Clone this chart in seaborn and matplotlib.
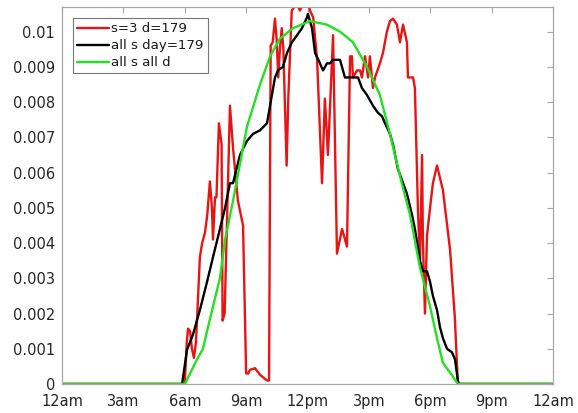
import matplotlib
matplotlib.use("Agg")
import matplotlib.pyplot as plt
import seaborn as sns
import pandas as pd

# ---- data (hours of day, fraction) ----
red_h = [0, 6.0, 6.1, 6.16, 6.26, 6.35, 6.45, 6.55, 6.74, 6.85, 6.99, 7.1, 7.23, 7.33, 7.38,
         7.48, 7.55, 7.67, 7.8, 7.85, 7.95, 8.21, 8.36, 8.6, 8.85, 9.0, 9.1, 9.19, 9.43, 9.68,
         10.02, 10.12, 10.2, 10.3, 10.41, 10.49, 10.57, 10.65, 10.74, 10.82, 10.98, 11.06,
         11.23, 11.31, 11.47, 11.63, 11.79, 12.04, 12.12, 12.28, 12.47, 12.71, 12.85, 13.0,
         13.25, 13.44, 13.69, 13.93, 14.08, 14.17,
         14.22, 14.42, 14.57, 14.66, 14.81, 14.96, 15.05, 15.2, 15.3, 15.54, 15.69, 15.88,
         16.03, 16.18, 16.37, 16.52, 16.67, 16.86, 16.91, 17.16, 17.25, 17.4, 17.5, 17.6,
         17.64, 17.74, 17.84, 17.99, 18.13, 18.33, 18.62, 18.97, 19.2, 19.35, 24]
red_v = [0, 0, 0.0012, 0.00157, 0.0015, 0.001, 0.00074, 0.0012, 0.0036, 0.004, 0.0043, 0.0048,
         0.00575, 0.005, 0.0041, 0.0053, 0.0053, 0.0074, 0.0068, 0.0018, 0.002, 0.0079, 0.0067,
         0.0052, 0.0045, 0.0003, 0.0003, 0.0004, 0.00045, 0.00026, 0.0001, 0.0001, 0.0096,
         0.0097, 0.01037, 0.0098, 0.0087, 0.0095, 0.0101, 0.0095, 0.0062, 0.0081, 0.0106,
         0.01066, 0.0108, 0.0106, 0.0108, 0.0108, 0.0106, 0.0104, 0.0092, 0.0057, 0.0081,
         0.0065, 0.0099, 0.0037, 0.0044, 0.0039, 0.0093, 0.0093,
         0.0087, 0.0089, 0.0089, 0.0087, 0.0093, 0.0087, 0.0093,
         0.0084, 0.0087, 0.0091, 0.0094, 0.0100, 0.0103, 0.01037, 0.0102, 0.0097, 0.0102,
         0.0097, 0.0087, 0.0087, 0.0084, 0.0049, 0.0035, 0.0065, 0.0041, 0.0020, 0.0042,
         0.0050, 0.0057, 0.0062, 0.0055, 0.0038, 0.0019, 0, 0]

blk_h = [0, 5.87, 6.11, 6.4, 6.74, 7.09, 7.38, 7.72, 7.97, 8.21, 8.36, 8.7, 9.04, 9.34, 9.68,
         10.02, 10.17, 10.41, 10.56, 10.8, 11.0, 11.24, 11.49, 11.73, 11.97, 12.02, 12.22,
         12.37, 12.61, 12.76, 12.95, 13.1, 13.25, 13.59, 13.83, 14.08, 14.32, 14.47, 14.66,
         14.91, 15.2, 15.44, 15.64, 15.79, 16.03, 16.18, 16.42, 16.67, 16.86, 17.11, 17.25,
         17.5, 17.64, 17.84, 17.99, 18.13, 18.33, 18.48, 18.62, 18.82, 19.06, 19.21, 19.35,
         19.4, 24]
blk_v = [0, 0, 0.00097, 0.0014, 0.0021, 0.0029, 0.0036, 0.0044, 0.005, 0.0057, 0.0057, 0.0065,
         0.0069, 0.0071, 0.0072, 0.0074, 0.0079, 0.0087, 0.0089, 0.009, 0.0094, 0.0097, 0.0099,
         0.0101, 0.0104, 0.0105, 0.0101, 0.0094, 0.0091, 0.0089, 0.0091, 0.0091, 0.0092,
         0.0092, 0.0087, 0.0087, 0.0087, 0.0087, 0.0084, 0.0082, 0.0079, 0.0077, 0.0076,
         0.0074, 0.0071, 0.0068, 0.0061, 0.0057, 0.0054, 0.0048, 0.0044, 0.0035, 0.0032,
         0.0032, 0.0029, 0.0025, 0.0021, 0.0016, 0.0013, 0.001, 0.0009, 0.0007, 0.0001, 0, 0]

grn_h = [0, 6.01, 6.26, 6.6, 6.89, 7.09, 7.38, 7.72, 7.97, 8.36, 9.04, 9.68, 10.17, 10.65,
         11.29, 12.12, 12.95, 13.59, 14.22, 14.91, 15.54, 16.03, 16.52, 17.01, 17.5, 17.99,
         18.33, 18.62, 19.0, 19.35, 24]
grn_v = [0, 0, 0.0003, 0.0007, 0.001, 0.0015, 0.0022, 0.003, 0.0041, 0.0052, 0.0073, 0.0085,
         0.0093, 0.0098, 0.0101, 0.0103, 0.0102, 0.0100, 0.0097, 0.0090, 0.0082, 0.0071,
         0.0059, 0.0048, 0.0033, 0.0022, 0.0013, 0.0006, 0.0003, 0, 0]

x_ticks = [0, 3, 6, 9, 12, 15, 18, 21, 24]
x_labels = ["12am", "3am", "6am", "9am", "12pm", "3pm", "6pm", "9pm", "12am"]
y_ticks = [0, 0.001, 0.002, 0.003, 0.004, 0.005, 0.006, 0.007, 0.008, 0.009, 0.01]
y_labels = ["0", "0.001", "0.002", "0.003", "0.004", "0.005", "0.006", "0.007", "0.008",
            "0.009", "0.01"]

sns.set_style("white")
plt.rcParams['font.family'] = ['DejaVu Sans']

fig = plt.figure(figsize=(5.78, 4.13), dpi=100)
ax = fig.add_axes([62 / 578, 1 - 384 / 413, (553 - 62) / 578, (384 - 7) / 413])

red_df = pd.DataFrame({"h": red_h, "v": red_v})
blk_df = pd.DataFrame({"h": blk_h, "v": blk_v})
grn_df = pd.DataFrame({"h": grn_h, "v": grn_v})

sns.lineplot(data=red_df, x="h", y="v", ax=ax, color="#e81414", linewidth=1.7,
             estimator=None, sort=False, label="s=3 d=179")
sns.lineplot(data=blk_df, x="h", y="v", ax=ax, color="black", linewidth=1.7,
             estimator=None, sort=False, label="all s day=179")
sns.lineplot(data=grn_df, x="h", y="v", ax=ax, color="#22e022", linewidth=1.7,
             estimator=None, sort=False, label="all s all d")

ax.set_xlim(0, 24)
ax.set_ylim(0, 0.0107)
ax.set_xticks(x_ticks)
ax.set_xticklabels(x_labels)
ax.set_yticks(y_ticks)
ax.set_yticklabels(y_labels)
ax.set_xlabel("")
ax.set_ylabel("")

for s in ax.spines.values():
    s.set_visible(True)
    s.set_color("#a8a8a8")
    s.set_linewidth(0.9)
ax.tick_params(direction="in", length=4, width=0.8, color="#a8a8a8",
               labelsize=10.5, labelcolor="#262626", top=True, right=True,
               labeltop=False, labelright=False)
ax.tick_params(axis="x", pad=7)
ax.tick_params(axis="y", pad=5)

leg = ax.legend(loc="upper left", bbox_to_anchor=(0.022, 0.97), fontsize=9.6,
                frameon=True, fancybox=False, handlelength=2.4, handletextpad=0.2,
                borderpad=0.3, labelspacing=0.3, borderaxespad=0.0)
leg.get_frame().set_edgecolor("#555555")
leg.get_frame().set_linewidth(0.8)
for t in leg.get_texts():
    t.set_color("#1a1a1a")

fig.savefig("out.png", dpi=100)
